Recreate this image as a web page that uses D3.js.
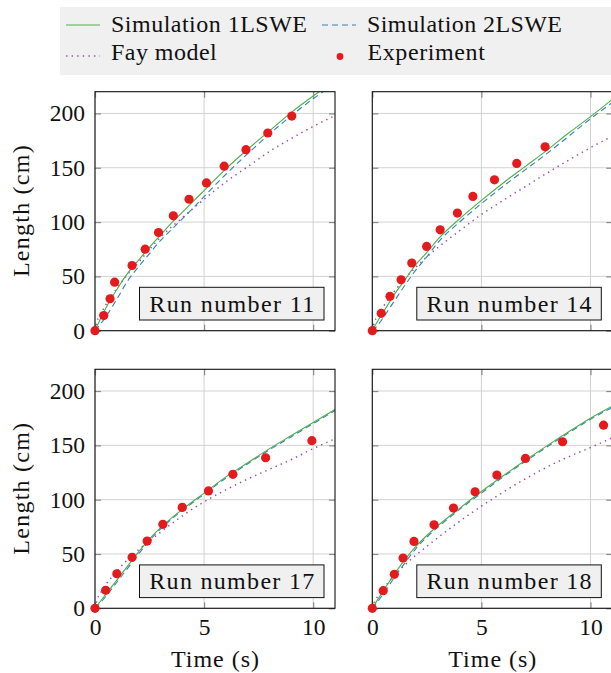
<!DOCTYPE html>
<html><head><meta charset="utf-8">
<script src="https://cdn.jsdelivr.net/npm/d3@7"></script>
<style>
body{margin:0;background:#fff}
svg{display:block}
text{font-family:"Liberation Serif","Times New Roman",serif;fill:#111}
</style>
</head><body>
<script>
// ---------------- DATA ----------------
const xTicks = [0, 5, 10];
const yTicks = [0, 50, 100, 150, 200];
const runNames = ["Run number 11", "Run number 14", "Run number 17", "Run number 18"];
const seriesNames = ["Simulation 1LSWE", "Simulation 2LSWE", "Fay model", "Experiment"];

const fayTime = [0, 0.1, 0.25, 0.5, 1, 1.5, 2, 2.5, 3, 4, 5, 6, 7, 8, 9, 10, 11];

// Run 11
const expTime11 = [0, 0.4, 0.69, 0.9, 1.70, 2.30, 2.91, 3.59, 4.31, 5.11, 5.92, 6.92, 7.92, 9.02];
const expLen11  = [0, 14, 29.4, 44.7, 60, 75, 90.4, 105.7, 121, 136, 151.4, 166.6, 182, 197.6];
const simTime11 = [0, 0.25, 0.5, 1, 1.5, 2, 2.5, 3, 3.5, 4, 4.5, 5, 6, 7, 8, 9, 10, 11];
const sim1Len11 = [0, 11, 21, 38, 53, 65, 77, 88, 99, 109, 119, 129, 149, 167, 184, 201, 216, 230];
const sim2Len11 = [0, 6, 13, 29, 46, 59, 71, 83, 93, 103, 113, 123.5, 144, 163, 181, 198, 213.5, 227];
const fayLen11  = [0, 9, 15, 24, 39, 52, 63, 75, 86, 104, 121, 137, 151, 165, 177, 188, 198];

// Run 14
const expTime14 = [0, 0.41, 0.81, 1.32, 1.81, 2.49, 3.11, 3.90, 4.61, 5.60, 6.62, 7.92];
const expLen14  = [0, 16, 31.6, 46.9, 62.3, 77.6, 92.9, 108.3, 123.6, 138.9, 154, 169.3];
const simTime14 = [0, 0.25, 0.5, 1, 1.5, 2, 2.5, 3, 4, 5, 6, 7, 8, 9, 10, 11];
const sim1Len14 = [0, 9, 17, 33, 47, 61, 72, 84, 103, 120, 136, 151, 166, 182, 197, 213];
const sim2Len14 = [0, 5, 12, 27, 42, 56, 68, 81, 100, 117, 133, 148, 163, 179, 195, 210];
const fayLen14  = [0, 8, 14, 22, 36, 48, 58.5, 68, 76.5, 92, 107, 120, 132.5, 145, 157, 168.5, 179];

// Run 17
const expTime17 = [0, 0.49, 1.0, 1.70, 2.39, 3.11, 4.0, 5.20, 6.32, 7.82, 9.94];
const expLen17  = [0, 16.6, 31.8, 46.9, 61.9, 77.3, 92.9, 108, 123.3, 138.6, 154.3];
const simTime17 = [0, 0.5, 1, 1.5, 2, 2.5, 3, 3.5, 4, 5, 6, 7, 8, 9, 10, 11];
const sim1Len17 = [0, 13, 26, 39, 52, 64, 74, 83, 91, 106, 121, 134, 147, 159, 171, 183];
const sim2Len17 = [0, 11, 24, 37, 50, 62.5, 73, 82, 90, 105, 120, 133, 146, 158, 170, 182];
const fayLen17  = [0, 8, 14, 22, 34, 45, 54, 62, 70, 85, 98, 109, 119, 128, 137, 147, 156];

// Run 18
const expTime18 = [0, 0.5, 1.01, 1.41, 1.91, 2.83, 3.72, 4.71, 5.71, 7.02, 8.72, 10.6];
const expLen18  = [0, 16.2, 31.3, 46.3, 61.6, 76.9, 92.3, 107.3, 122.6, 138, 153.3, 168.6];
const simTime18 = [0, 0.5, 1, 1.5, 2, 2.5, 3, 4, 5, 6, 7, 8, 9, 10, 11];
const sim1Len18 = [0, 16, 31, 45, 57, 67, 76, 92, 107.5, 122, 136, 149.5, 162.5, 175, 186];
const sim2Len18 = [0, 13, 28, 42, 55, 65.5, 74.5, 91, 106, 121, 135, 148.5, 161.5, 174, 185];
const fayLen18  = [0, 6, 11, 18, 30, 40, 49, 57, 65, 80, 94, 107, 119, 130, 139.5, 148, 157];

// ---------------- STYLE / LAYOUT ----------------
const C = { sim1: "#4daf4a", sim2: "#377eb8", fay: "#984ea3", exp: "#e41a1c" };
const PW = 240, PH = 239;
const FONT_T = 24, FONT_TICK = 23.5;
const FONT = "Liberation Serif";

const svg = d3.select("body").append("svg").attr("width", 611).attr("height", 673);

const zip = (a, b) => a.map((v, i) => [v, b[i]]);

// text helper with a fitted length (Computer-Modern-like widths)
function addText(parent, str, x, y, len, anchor) {
  return parent.append("text").attr("x", x).attr("y", y)
    .attr("text-anchor", anchor || "start")
    .attr("font-family", FONT).attr("font-size", FONT_T)
    .attr("textLength", len).attr("lengthAdjust", "spacing")
    .text(str);
}

const panels = [
  { name: runNames[0], left: 95,    top: 91.7,  row: 0, col: 0,
    simT: simTime11, s1: sim1Len11, s2: sim2Len11, fay: fayLen11, eT: expTime11, eL: expLen11 },
  { name: runNames[1], left: 372.3, top: 91.7,  row: 0, col: 1,
    simT: simTime14, s1: sim1Len14, s2: sim2Len14, fay: fayLen14, eT: expTime14, eL: expLen14 },
  { name: runNames[2], left: 95,    top: 369.3, row: 1, col: 0,
    simT: simTime17, s1: sim1Len17, s2: sim2Len17, fay: fayLen17, eT: expTime17, eL: expLen17 },
  { name: runNames[3], left: 372.3, top: 369.3, row: 1, col: 1,
    simT: simTime18, s1: sim1Len18, s2: sim2Len18, fay: fayLen18, eT: expTime18, eL: expLen18 }
];

panels.forEach((p, i) => {
  const g = svg.append("g").attr("transform", `translate(${p.left},${p.top})`);
  const x = d3.scaleLinear().domain([0, 11]).range([0, PW]);
  const y = d3.scaleLinear().domain([0, 220]).range([PH, 0]);

  // grid
  g.append("g").selectAll("line").data(xTicks).join("line")
    .attr("x1", d => x(d)).attr("x2", d => x(d)).attr("y1", 0).attr("y2", PH)
    .attr("stroke", "#d2d2d2").attr("stroke-width", 1);
  g.append("g").selectAll("line").data(yTicks).join("line")
    .attr("y1", d => y(d)).attr("y2", d => y(d)).attr("x1", 0).attr("x2", PW)
    .attr("stroke", "#d2d2d2").attr("stroke-width", 1);

  // ticks (inward on all four sides)
  const tickStyle = sel => {
    sel.select(".domain").remove();
    sel.selectAll(".tick line").attr("stroke", "#8a8a8a").attr("stroke-width", 1.2);
    sel.selectAll("text").attr("font-family", FONT).attr("font-size", FONT_TICK).attr("fill", "#111");
  };
  g.append("g").attr("transform", `translate(0,${PH})`)
    .call(d3.axisBottom(x).tickValues(xTicks).tickSizeInner(-6).tickSizeOuter(0).tickPadding(10)
      .tickFormat(p.row === 1 ? d3.format("d") : () => ""))
    .call(tickStyle);
  g.append("g")
    .call(d3.axisTop(x).tickValues(xTicks).tickSizeInner(-6).tickSizeOuter(0).tickFormat(() => ""))
    .call(tickStyle);
  g.append("g")
    .call(d3.axisLeft(y).tickValues(yTicks).tickSizeInner(-6).tickSizeOuter(0).tickPadding(10)
      .tickFormat(p.col === 0 ? d3.format("d") : () => ""))
    .call(tickStyle);
  g.append("g").attr("transform", `translate(${PW},0)`)
    .call(d3.axisRight(y).tickValues(yTicks).tickSizeInner(-6).tickSizeOuter(0).tickFormat(() => ""))
    .call(tickStyle);

  // clip
  const cid = "clip" + i;
  g.append("clipPath").attr("id", cid).append("rect").attr("width", PW).attr("height", PH);
  const line = d3.line().x(d => x(d[0])).y(d => y(d[1])).curve(d3.curveMonotoneX);
  const lg = g.append("g").attr("clip-path", `url(#${cid})`);
  lg.append("path").attr("d", line(zip(fayTime, p.fay))).attr("fill", "none")
    .attr("stroke", C.fay).attr("stroke-width", 1.5).attr("stroke-dasharray", "1.4,4.2");
  lg.append("path").attr("d", line(zip(p.simT, p.s2))).attr("fill", "none")
    .attr("stroke", C.sim2).attr("stroke-width", 1.1).attr("stroke-dasharray", "6,4");
  lg.append("path").attr("d", line(zip(p.simT, p.s1))).attr("fill", "none")
    .attr("stroke", C.sim1).attr("stroke-width", 1.1);

  // frame
  g.append("rect").attr("width", PW).attr("height", PH).attr("fill", "none")
    .attr("stroke", "#111").attr("stroke-width", 1.1);

  // experiment dots
  g.append("g").selectAll("circle").data(zip(p.eT, p.eL)).join("circle")
    .attr("cx", d => x(d[0])).attr("cy", d => y(d[1])).attr("r", 4.6).attr("fill", C.exp);

  // run label box
  const bw = 184.5, bh = 32.7;
  const bx = PW - 11 - bw, by = PH - 10.7 - bh;
  g.append("rect").attr("x", bx).attr("y", by).attr("width", bw).attr("height", bh)
    .attr("fill", "#f0f0f0").attr("stroke", "#111").attr("stroke-width", 1);
  addText(g, p.name, bx + bw / 2, by + 24.3, 165, "middle");

  // axis titles
  if (p.col === 0) {
    addText(g, "Length (cm)", 0, 0, 131.7, "middle")
      .attr("x", null).attr("y", null)
      .attr("transform", `translate(${29 - p.left},${PH / 2}) rotate(-90)`);
  }
  if (p.row === 1) {
    addText(g, "Time (s)", PW / 2, 667 - p.top, 88, "middle");
  }
});

// ---------------- LEGEND ----------------
const leg = svg.append("g");
leg.append("rect").attr("x", 60).attr("y", 7).attr("width", 570).attr("height", 68).attr("fill", "#f0f0f0");
const row1 = 25, row2 = 56;
leg.append("line").attr("x1", 66).attr("x2", 100).attr("y1", row1).attr("y2", row1)
  .attr("stroke", C.sim1).attr("stroke-width", 1.1);
addText(leg, seriesNames[0], 111, 31.7, 196);
leg.append("line").attr("x1", 322).attr("x2", 356).attr("y1", row1).attr("y2", row1)
  .attr("stroke", C.sim2).attr("stroke-width", 1.1).attr("stroke-dasharray", "6,4");
addText(leg, seriesNames[1], 367, 31.7, 195);
leg.append("line").attr("x1", 66).attr("x2", 100).attr("y1", row2).attr("y2", row2)
  .attr("stroke", C.fay).attr("stroke-width", 1.5).attr("stroke-dasharray", "1.4,4.2");
addText(leg, seriesNames[2], 111, 60.3, 105.7);
leg.append("circle").attr("cx", 340).attr("cy", row2 + 0.5).attr("r", 3.4).attr("fill", C.exp);
addText(leg, seriesNames[3], 367.5, 60.3, 117.3);
</script>
</body></html>
